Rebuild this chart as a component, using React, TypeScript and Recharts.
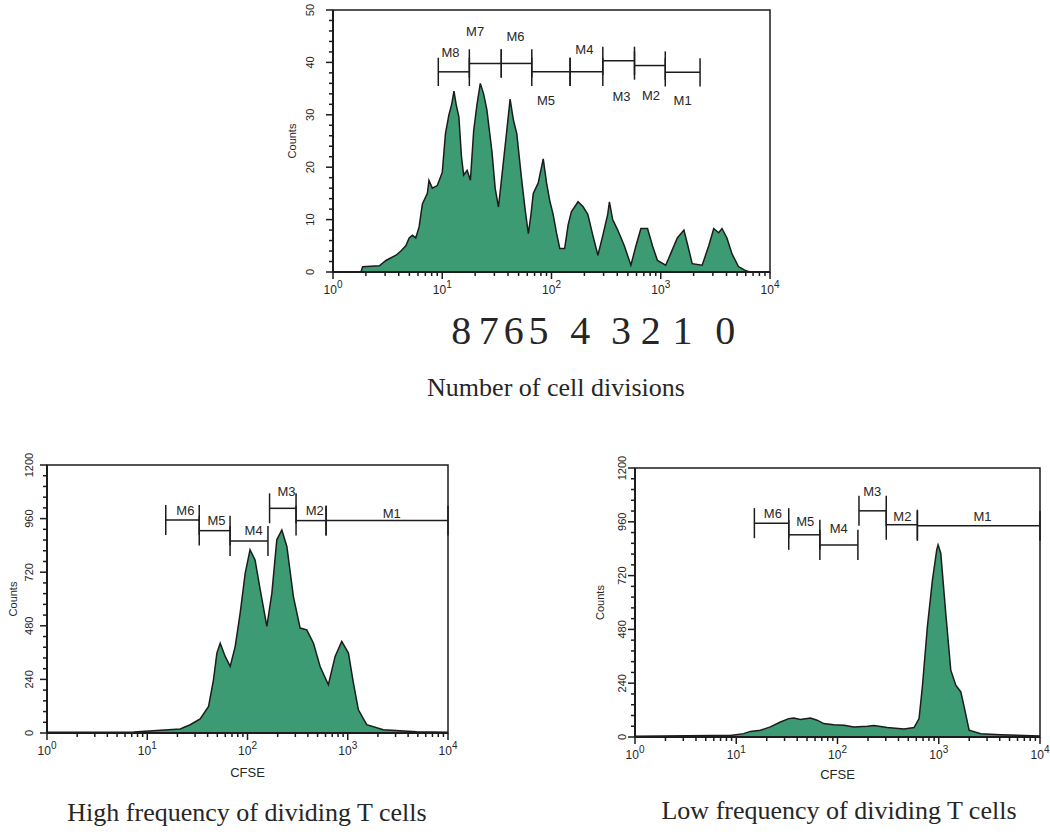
import React from 'react';
import { AreaChart, Area, XAxis, YAxis, ReferenceLine, ReferenceDot, ReferenceArea } from 'recharts';

// CFSE histogram, top panel (counts per channel)
const divCfse = [1, 1.8, 1.87, 2.66, 3.05, 3.77, 4.18, 4.64, 4.98, 5.34, 5.72, 6.14, 6.58, 7.31, 7.56, 8.11, 9.0, 10, 10.7, 11.5, 12.2, 12.8, 13.4, 14.2, 15.0, 15.7, 16.9, 18.1, 19.4, 20.8, 22.3, 23.9, 25.6, 28.5, 30.5, 32.7, 34.6, 37.6, 41.8, 44.8, 48.1, 53.4, 57.3, 61.4, 64.9, 68.1, 75.6, 84, 90.1, 96.6, 103.5, 111, 119, 132, 142, 152, 175, 194, 215, 239, 266, 295, 327, 339, 363, 404, 464, 533, 593, 658, 757, 840, 933, 1110, 1233, 1418, 1630, 1771, 1940, 2393, 2750, 3055, 3390, 3634, 4035, 4484, 5155, 5929, 6580, 10000];
const divCounts = [0, 0, 1, 1.2, 2.2, 3.2, 4, 5, 6.5, 7, 6.5, 8.6, 13, 15, 17.5, 16, 16.5, 19, 26.4, 30, 32, 34.5, 32, 29.6, 22, 18.5, 19.4, 17.5, 27, 32, 36, 34, 31, 23, 16, 12.4, 17, 24, 33, 29, 26.4, 17.5, 12, 7.3, 11, 15, 17, 21.6, 17, 13.5, 11, 7.5, 4.5, 4.5, 9, 11.5, 13.4, 12.5, 11, 7, 3.2, 7, 11, 13.4, 10, 8, 5, 1.3, 5, 8.3, 8.3, 5, 2.2, 1.3, 3.5, 6.5, 8, 5, 1.6, 1.3, 5, 8.3, 7.5, 8.3, 6.5, 3.5, 1, 0.3, 0, 0];

// high frequency of dividing T cells
const highCfse = [1, 7.3, 21.3, 26.8, 33.7, 40.9, 45.8, 49.5, 53.4, 59.9, 67.2, 75.4, 84.5, 94.8, 106, 119, 134, 156, 175, 196, 220, 247, 287, 335, 390, 455, 530, 641, 748, 871, 1016, 1138, 1277, 1546, 2265, 4874, 10000];
const highCounts = [3, 4, 18, 37, 63, 119, 239, 358, 402, 343, 298, 388, 537, 715, 820, 775, 641, 477, 626, 865, 909, 835, 611, 470, 462, 402, 298, 216, 343, 410, 358, 224, 104, 37, 15, 6, 3];

// low frequency of dividing T cells
const lowCfse = [1, 5.97, 8.73, 11.8, 13.8, 17.3, 21.7, 27.3, 33, 37, 43, 54, 63, 73, 92, 116, 145, 197, 229, 310, 454, 570, 639, 689, 772, 866, 955, 985, 1047, 1173, 1315, 1473, 1652, 1782, 1995, 2606, 4111, 10000];
const lowCounts = [3, 7, 7, 15, 25, 30, 45, 67, 82, 85, 78, 85, 75, 60, 55, 52, 45, 48, 51, 42, 36, 42, 82, 224, 492, 700, 835, 857, 820, 552, 298, 231, 201, 134, 30, 15, 10, 4];

// marker gates
const topGateNames = ['M8', 'M7', 'M6', 'M5', 'M4', 'M3', 'M2', 'M1'];
const topGateFrom = [9.2, 17.7, 34.7, 66, 148, 295, 575, 1100];
const topGateTo = [17.7, 34.7, 66, 148, 295, 575, 1100, 2290];
const topGateLevel = [38.2, 39.8, 39.8, 38.2, 38.2, 40.3, 39.4, 38.1];
const topLabelX = [11.9, 20, 46.8, 89, 200, 437, 813, 1585];
const topLabelY = [42, 45.9, 44.9, 32.8, 42.5, 33.6, 33.8, 32.8];

const cfseGateNames = ['M6', 'M5', 'M4', 'M3', 'M2', 'M1'];
const highGateFrom = [15.3, 33, 67, 166, 305, 608];
const highGateTo = [33, 67, 160, 305, 608, 10000];
const highGateLevel = [954, 906, 860, 1006, 951, 951];
const highLabelX = [24, 49, 115, 245, 468, 2750];
const highLabelY = [999, 954, 909, 1081, 999, 984];

const lowGateFrom = [15.1, 33, 67, 163, 303, 615];
const lowGateTo = [33, 67, 159, 303, 615, 10000];
const lowGateLevel = [954, 902, 857, 1009, 947, 942];
const lowLabelX = [23, 48, 103, 220, 437, 2700];
const lowLabelY = [999, 961, 932, 1096, 984, 984];

// division numbers under the top panel
const divisionLabels = ['8', '7', '6', '5', '4', '3', '2', '1', '0'];
const divisionX = [14.9, 26.7, 45.1, 76.2, 183.5, 433, 811, 1585, 3890];

// axis ticks
const xTicks = [1, 2, 3, 4, 5, 6, 7, 8, 9, 10, 20, 30, 40, 50, 60, 70, 80, 90, 100, 200, 300, 400, 500, 600, 700, 800, 900, 1000, 2000, 3000, 4000, 5000, 6000, 7000, 8000, 9000, 10000];
const decades = [1, 10, 100, 1000, 10000];
const topYTicks = [0, 2, 4, 6, 8, 10, 12, 14, 16, 18, 20, 22, 24, 26, 28, 30, 32, 34, 36, 38, 40, 42, 44, 46, 48, 50];
const topYLabels = [0, 10, 20, 30, 40, 50];
const cfseYTicks = [0, 48, 96, 144, 192, 240, 288, 336, 384, 432, 480, 528, 576, 624, 672, 720, 768, 816, 864, 912, 960, 1008, 1056, 1104, 1152, 1200];
const cfseYLabels = [0, 240, 480, 720, 960, 1200];

const INK = '#1c1c1c';
const TEXT = '#262626';
const FILL = '#3c9b72';
const SANS = 'Liberation Sans, Arial, sans-serif';
const SERIF = 'Liberation Serif, Times New Roman, serif';

const toRows = (xs: number[], ys: number[]) => xs.map((x, i) => ({ x, y: ys[i] }));
const toGates = (names: string[], from: number[], to: number[], level: number[], lx: number[], ly: number[]) =>
  names.map((name, i) => ({ name, from: from[i], to: to[i], level: level[i], lx: lx[i], ly: ly[i] }));

const XTick = ({ x, y, payload }: any) => {
  const v = payload.value;
  const major = decades.includes(v);
  const e = Math.round(Math.log10(v));
  return (
    <g>
      <line x1={x} x2={x} y1={y} y2={y + (major ? 7 : 4)} stroke={INK} strokeWidth={1.5} />
      {major && (
        <text x={x} y={y + 22} textAnchor="middle" fontSize={12} fontFamily={SANS} fill={TEXT}>
          <tspan>10</tspan>
          <tspan dy={-6} fontSize={10}>{e}</tspan>
        </text>
      )}
    </g>
  );
};

const YTick = ({ x, y, payload, labels, offset }: any) => {
  const major = labels.includes(payload.value);
  return (
    <g>
      <line x1={x - (major ? 7 : 4)} x2={x} y1={y} y2={y} stroke={INK} strokeWidth={1.5} />
      {major && (
        <text
          x={x - offset}
          y={y + 4}
          transform={`rotate(-90 ${x - offset} ${y})`}
          textAnchor="middle"
          fontSize={11}
          fontFamily={SANS}
          fill={TEXT}
        >
          {payload.value}
        </text>
      )}
    </g>
  );
};

const Histogram = ({ box, data, gates, yMax, yTicks, yLabels, tickHalf, xTitle, children }: any) => (
  <div style={{ position: 'absolute', left: box.left, top: box.top }}>
    <AreaChart width={box.width} height={box.height} data={data} margin={box.margin}>
      <XAxis
        dataKey="x"
        type="number"
        scale="log"
        domain={[1, 10000]}
        ticks={xTicks}
        interval={0}
        allowDataOverflow
        tickSize={0}
        tickMargin={0}
        tickLine={false}
        height={box.xAxisHeight}
        axisLine={{ stroke: INK, strokeWidth: 2 }}
        tick={(p: any) => <XTick {...p} />}
        label={
          xTitle
            ? {
                content: (p: any) => (
                  <text x={p.viewBox.x + p.viewBox.width / 2} y={p.viewBox.y + box.xTitleOffset} textAnchor="middle" fontSize={13} fontFamily={SANS} fill={TEXT}>
                    {xTitle}
                  </text>
                ),
              }
            : undefined
        }
      />
      <YAxis
        type="number"
        domain={[0, yMax]}
        ticks={yTicks}
        interval={0}
        tickSize={0}
        tickMargin={0}
        tickLine={false}
        width={box.yAxisWidth}
        axisLine={{ stroke: INK, strokeWidth: 2 }}
        tick={(p: any) => <YTick {...p} labels={yLabels} offset={box.yTickOffset} />}
        label={{
          content: (p: any) => {
            const tx = p.viewBox.x + p.viewBox.width - box.yTitleOffset;
            const ty = p.viewBox.y + p.viewBox.height / 2;
            return (
              <text x={tx} y={ty + 4} transform={`rotate(-90 ${tx} ${ty})`} textAnchor="middle" fontSize={11} fontFamily={SANS} fill={TEXT}>
                Counts
              </text>
            );
          },
        }}
      />
      <Area
        dataKey="y"
        type="linear"
        stroke={INK}
        strokeWidth={1.5}
        fill={FILL}
        fillOpacity={1}
        dot={false}
        activeDot={false}
        isAnimationActive={false}
      />
      <ReferenceArea x1={1} x2={10000} y1={0} y2={yMax} fill="none" stroke={INK} strokeWidth={1.5} ifOverflow="visible" />
      {gates.map((g: any) => (
        <ReferenceLine key={g.name + 'h'} segment={[{ x: g.from, y: g.level }, { x: g.to, y: g.level }]} stroke={INK} strokeWidth={1.5} ifOverflow="visible" />
      ))}
      {gates.map((g: any) => (
        <ReferenceLine key={g.name + 'l'} segment={[{ x: g.from, y: g.level - tickHalf }, { x: g.from, y: g.level + tickHalf }]} stroke={INK} strokeWidth={1.5} ifOverflow="visible" />
      ))}
      {gates.map((g: any) => (
        <ReferenceLine key={g.name + 'r'} segment={[{ x: g.to, y: g.level - tickHalf }, { x: g.to, y: g.level + tickHalf }]} stroke={INK} strokeWidth={1.5} ifOverflow="visible" />
      ))}
      {gates.map((g: any) => (
        <ReferenceDot
          key={g.name + 't'}
          x={g.lx}
          y={g.ly}
          r={0}
          fill="none"
          stroke="none"
          ifOverflow="visible"
          label={{ value: g.name, position: 'center', fontSize: 13, fontFamily: SANS, fill: TEXT }}
        />
      ))}
      {children}
    </AreaChart>
  </div>
);

const Caption = ({ text, center, top, size }: any) => (
  <div
    style={{
      position: 'absolute',
      left: center - 250,
      top,
      width: 500,
      textAlign: 'center',
      fontFamily: SERIF,
      fontSize: size,
      lineHeight: 1,
      color: TEXT,
      whiteSpace: 'nowrap',
    }}
  >
    {text}
  </div>
);

export default function App() {
  const topBox = { left: 280, top: 0, width: 510, height: 360, margin: { top: 10, right: 20, bottom: 50, left: 0 }, yAxisWidth: 53, xAxisHeight: 38, yTickOffset: 23, yTitleOffset: 41, xTitleOffset: 44 };
  const highBox = { left: 0, top: 440, width: 470, height: 345, margin: { top: 25, right: 22, bottom: 0, left: 0 }, yAxisWidth: 47, xAxisHeight: 52, yTickOffset: 18, yTitleOffset: 34, xTitleOffset: 44 };
  const lowBox = { left: 580, top: 440, width: 470, height: 345, margin: { top: 28, right: 10, bottom: 0, left: 0 }, yAxisWidth: 55, xAxisHeight: 48, yTickOffset: 13, yTitleOffset: 35, xTitleOffset: 42 };

  return (
    <div style={{ position: 'absolute', left: 0, top: 0, width: 1050, height: 834, background: '#fff', overflow: 'hidden' }}>
      <Histogram
        box={topBox}
        data={toRows(divCfse, divCounts)}
        gates={toGates(topGateNames, topGateFrom, topGateTo, topGateLevel, topLabelX, topLabelY)}
        yMax={50}
        yTicks={topYTicks}
        yLabels={topYLabels}
        tickHalf={2.7}
      >
        {divisionLabels.map((d, i) => (
          <ReferenceDot
            key={'div' + d}
            x={divisionX[i]}
            y={-11}
            r={0}
            fill="none"
            stroke="none"
            ifOverflow="visible"
            label={{ value: d, position: 'center', fontSize: 40, fontFamily: SERIF, fill: TEXT }}
          />
        ))}
      </Histogram>
      <Caption text="Number of cell divisions" center={556} top={375} size={26} />
      <Histogram
        box={highBox}
        data={toRows(highCfse, highCounts)}
        gates={toGates(cfseGateNames, highGateFrom, highGateTo, highGateLevel, highLabelX, highLabelY)}
        yMax={1200}
        yTicks={cfseYTicks}
        yLabels={cfseYLabels}
        tickHalf={67}
        xTitle="CFSE"
      />
      <Histogram
        box={lowBox}
        data={toRows(lowCfse, lowCounts)}
        gates={toGates(cfseGateNames, lowGateFrom, lowGateTo, lowGateLevel, lowLabelX, lowLabelY)}
        yMax={1200}
        yTicks={cfseYTicks}
        yLabels={cfseYLabels}
        tickHalf={67}
        xTitle="CFSE"
      />
      <Caption text="High frequency of dividing T cells" center={247} top={800} size={26} />
      <Caption text="Low frequency of dividing T cells" center={839} top={798} size={26} />
    </div>
  );
}
